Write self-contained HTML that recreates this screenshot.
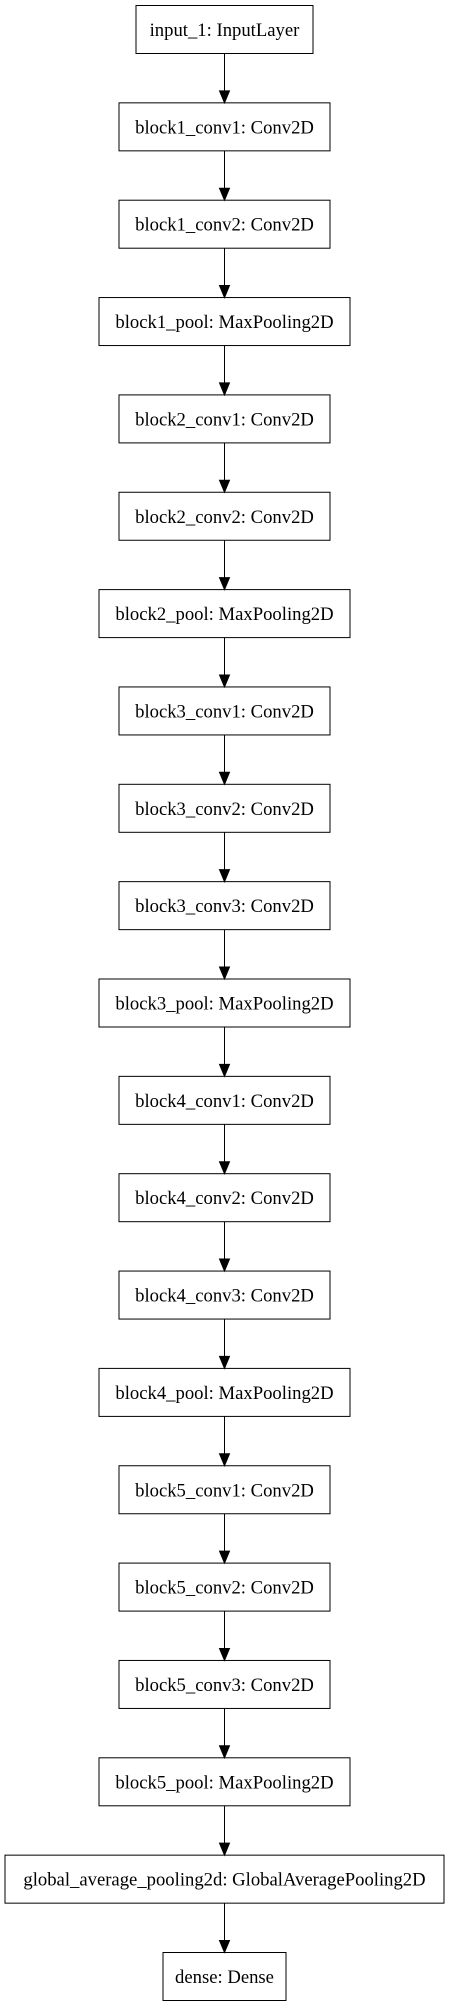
<!DOCTYPE html>
<html><head><style>body{margin:0;background:#fff}svg{display:block}</style></head><body>
<svg width="449" height="2007" xmlns="http://www.w3.org/2000/svg" font-family="Liberation Serif, serif" font-size="18.67">
<script type="text/plain"></script>
<g id="g"></g>
</svg>
<script>
const nodes=[["input_1: InputLayer",136,313],["block1_conv1: Conv2D",119,330],["block1_conv2: Conv2D",119,330],["block1_pool: MaxPooling2D",99,350],["block2_conv1: Conv2D",119,330],["block2_conv2: Conv2D",119,330],["block2_pool: MaxPooling2D",99,350],["block3_conv1: Conv2D",119,330],["block3_conv2: Conv2D",119,330],["block3_conv3: Conv2D",119,330],["block3_pool: MaxPooling2D",99,350],["block4_conv1: Conv2D",119,330],["block4_conv2: Conv2D",119,330],["block4_conv3: Conv2D",119,330],["block4_pool: MaxPooling2D",99,350],["block5_conv1: Conv2D",119,330],["block5_conv2: Conv2D",119,330],["block5_conv3: Conv2D",119,330],["block5_pool: MaxPooling2D",99,350],["global_average_pooling2d: GlobalAveragePooling2D",5,444],["dense: Dense",163,286]];
let s="";
nodes.forEach((n,i)=>{const y=5.5+97.35*i;
s+=`<rect x="${n[1]}" y="${y}" width="${n[2]-n[1]}" height="48" fill="none" stroke="#000" stroke-width="1"/>`;
s+=`<text x="224.5" y="${y+30.5}" text-anchor="middle">${n[0]}</text>`;
if(i>0){const py=5.5+97.35*(i-1)+48;
s+=`<line x1="224.5" y1="${py}" x2="224.5" y2="${y-12}" stroke="#000"/>`;
s+=`<polygon points="219.5,${y-12} 229.5,${y-12} 224.5,${y}" fill="#000" stroke="#000"/>`;}
});
document.getElementById("g").innerHTML=s;
</script>
</body></html>
